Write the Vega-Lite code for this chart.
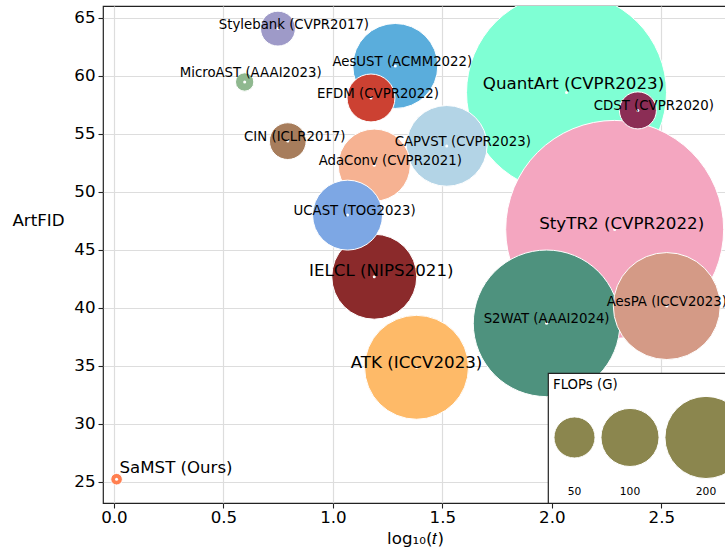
{
  "$schema": "https://vega.github.io/schema/vega-lite/v6.json",
  "width": 624,
  "height": 497,
  "autosize": {"type": "none"},
  "padding": {"left": 103, "top": 6, "right": 0, "bottom": 47},
  "config": {
    "font": "DejaVu Sans",
    "view": {"stroke": "#222222", "strokeWidth": 1.2},
    "axis": {
      "domain": false,
      "labelFont": "DejaVu Sans",
      "labelFontSize": 16.7,
      "labelColor": "black",
      "tickColor": "#222222",
      "tickSize": 5,
      "tickWidth": 1.1,
      "gridColor": "#dddddd",
      "gridWidth": 1.2,
      "titleFont": "DejaVu Sans",
      "titleFontSize": 16.7,
      "titleFontWeight": "normal",
      "titleColor": "black"
    }
  },
  "data": {
    "values": [
      {"label": "QuantArt (CVPR2023)", "t": 2.067, "artfid": 58.54, "flops": 1185},
      {"label": "StyTR2 (CVPR2022)", "t": 2.287, "artfid": 46.74, "flops": 1408},
      {"label": "S2WAT (AAAI2024)", "t": 1.976, "artfid": 38.64, "flops": 637},
      {"label": "AesPA (ICCV2023)", "t": 2.525, "artfid": 40.13, "flops": 339},
      {"label": "CDST (CVPR2020)", "t": 2.393, "artfid": 57.0, "flops": 40.6},
      {"label": "AesUST (ACMM2022)", "t": 1.285, "artfid": 60.83, "flops": 214},
      {"label": "EFDM (CVPR2022)", "t": 1.174, "artfid": 58.07, "flops": 68},
      {"label": "CAPVST (CVPR2023)", "t": 1.52, "artfid": 53.94, "flops": 193},
      {"label": "AdaConv (CVPR2021)", "t": 1.189, "artfid": 52.28, "flops": 154},
      {"label": "IELCL (NIPS2021)", "t": 1.189, "artfid": 42.66, "flops": 214},
      {"label": "UCAST (TOG2023)", "t": 1.067, "artfid": 47.97, "flops": 145},
      {"label": "ATK (ICCV2023)", "t": 1.382, "artfid": 34.85, "flops": 320},
      {"label": "CIN (ICLR2017)", "t": 0.794, "artfid": 54.35, "flops": 40},
      {"label": "Stylebank (CVPR2017)", "t": 0.749, "artfid": 64.05, "flops": 36},
      {"label": "MicroAST (AAAI2023)", "t": 0.597, "artfid": 59.45, "flops": 10},
      {"label": "SaMST (Ours)", "t": 0.012, "artfid": 25.2, "flops": 4}
    ]
  },
  "encoding": {
    "x": {
      "field": "t", "type": "quantitative",
      "scale": {"domain": [-0.05, 2.8], "nice": false, "zero": false},
      "axis": {"values": [0, 0.5, 1, 1.5, 2, 2.5], "format": ".1f", "title": "log₁₀(𝑡)", "labelPadding": 1, "titlePadding": 5}
    },
    "y": {
      "field": "artfid", "type": "quantitative",
      "scale": {"domain": [23.15, 66], "nice": false, "zero": false},
      "axis": {"values": [25, 30, 35, 40, 45, 50, 55, 60, 65], "title": "ArtFID", "labelPadding": 3, "titleAngle": 0, "titleX": -65, "titleY": 214, "titleAlign": "center", "titleBaseline": "middle"}
    }
  },
  "layer": [
    {
      "mark": {"type": "circle", "opacity": 1, "stroke": "white", "strokeWidth": 1, "clip": true},
      "encoding": {
        "size": {
          "field": "flops", "type": "quantitative",
          "scale": {"type": "linear", "domain": [0, 2000], "range": [0, 67480], "nice": false, "zero": true},
          "legend": {
            "title": "FLOPs (G)",
            "values": [50, 100, 200],
            "direction": "horizontal",
            "orient": "none",
            "legendX": 445,
            "legendY": 367,
            "fillColor": "white",
            "strokeColor": "#222222",
            "cornerRadius": 0,
            "padding": 5,
            "titleFont": "DejaVu Sans",
            "titleFontSize": 13.3,
            "titleFontWeight": "normal",
            "titleColor": "black",
            "titlePadding": 4,
            "labelFont": "DejaVu Sans",
            "labelFontSize": 10.7,
            "labelColor": "black",
            "columnPadding": 0,
            "symbolType": "circle",
            "encoding": {
              "legend": {"strokeWidth": {"value": 1.2}},
              "symbols": {"y": {"value": 42}, "fill": {"value": "#8b864e"}, "stroke": {"value": "white"}, "strokeWidth": {"value": 1}, "opacity": {"value": 1}},
              "labels": {"x": {"value": {"expr": "datum.size*0.5"}}, "y": {"value": 97}, "align": {"value": "center"}, "baseline": {"value": "middle"}}
            }
          }
        },
        "color": {
          "field": "label", "type": "nominal", "legend": null,
          "scale": {
            "domain": ["QuantArt (CVPR2023)", "StyTR2 (CVPR2022)", "S2WAT (AAAI2024)", "AesPA (ICCV2023)", "CDST (CVPR2020)", "AesUST (ACMM2022)", "EFDM (CVPR2022)", "CAPVST (CVPR2023)", "AdaConv (CVPR2021)", "IELCL (NIPS2021)", "UCAST (TOG2023)", "ATK (ICCV2023)", "CIN (ICLR2017)", "Stylebank (CVPR2017)", "MicroAST (AAAI2023)", "SaMST (Ours)"],
            "range": ["#7fffd4", "#f4a6c0", "#4e927e", "#d49a86", "#8b2d55", "#5aaddc", "#cc4132", "#b3d4e6", "#f6b292", "#8b2a2b", "#7da7e4", "#feba68", "#a77d5c", "#9e9ac8", "#8fb88f", "#ff7f50"]
          }
        }
      }
    },
    {
      "mark": {"type": "circle", "opacity": 1, "color": "white", "size": 9, "clip": true}
    },
    {
      "transform": [{"filter": {"field": "label", "oneOf": ["CIN (ICLR2017)", "UCAST (TOG2023)", "AesUST (ACMM2022)", "EFDM (CVPR2022)"]}}],
      "mark": {"type": "text", "font": "DejaVu Sans", "fontSize": 13.3, "color": "black", "align": "center", "baseline": "middle", "dx": 7, "dy": -4.3},
      "encoding": {"text": {"field": "label"}}
    },
    {
      "transform": [{"filter": {"field": "label", "oneOf": ["MicroAST (AAAI2023)"]}}],
      "mark": {"type": "text", "font": "DejaVu Sans", "fontSize": 13.3, "color": "black", "align": "center", "baseline": "middle", "dx": 6, "dy": -9},
      "encoding": {"text": {"field": "label"}}
    },
    {
      "transform": [{"filter": {"field": "label", "oneOf": ["Stylebank (CVPR2017)", "CDST (CVPR2020)", "AdaConv (CVPR2021)", "CAPVST (CVPR2023)"]}}],
      "mark": {"type": "text", "font": "DejaVu Sans", "fontSize": 13.3, "color": "black", "align": "center", "baseline": "middle", "dx": 16, "dy": -4},
      "encoding": {"text": {"field": "label"}}
    },
    {
      "transform": [{"filter": {"field": "label", "oneOf": ["S2WAT (AAAI2024)", "AesPA (ICCV2023)"]}}],
      "mark": {"type": "text", "font": "DejaVu Sans", "fontSize": 13.3, "color": "black", "align": "center", "baseline": "middle", "dx": 0, "dy": -4.3},
      "encoding": {"text": {"field": "label"}}
    },
    {
      "transform": [{"filter": {"field": "label", "oneOf": ["QuantArt (CVPR2023)"]}}],
      "mark": {"type": "text", "font": "DejaVu Sans", "fontSize": 16.7, "color": "black", "align": "center", "baseline": "middle", "dx": 7, "dy": -9},
      "encoding": {"text": {"field": "label"}}
    },
    {
      "transform": [{"filter": {"field": "label", "oneOf": ["StyTR2 (CVPR2022)", "IELCL (NIPS2021)"]}}],
      "mark": {"type": "text", "font": "DejaVu Sans", "fontSize": 16.7, "color": "black", "align": "center", "baseline": "middle", "dx": 7, "dy": -5.5},
      "encoding": {"text": {"field": "label"}}
    },
    {
      "transform": [{"filter": {"field": "label", "oneOf": ["ATK (ICCV2023)"]}}],
      "mark": {"type": "text", "font": "DejaVu Sans", "fontSize": 16.7, "color": "black", "align": "center", "baseline": "middle", "dx": 0, "dy": -4.6},
      "encoding": {"text": {"field": "label"}}
    },
    {
      "transform": [{"filter": {"field": "label", "oneOf": ["SaMST (Ours)"]}}],
      "mark": {"type": "text", "font": "DejaVu Sans", "fontSize": 16.6, "color": "black", "align": "left", "baseline": "middle", "dx": 3, "dy": -11},
      "encoding": {"text": {"field": "label"}}
    }
  ]
}
